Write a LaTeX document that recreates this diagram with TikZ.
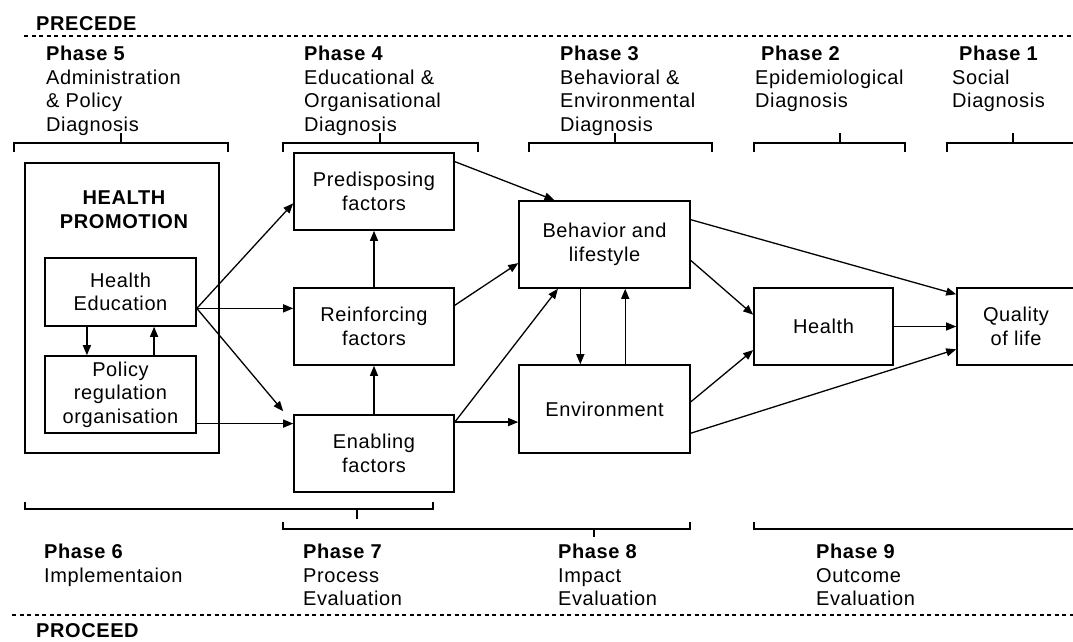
\documentclass[tikz,border=0pt]{standalone}
\usepackage{fontspec}
\setmainfont{Liberation Sans}[LetterSpace=3]
\usetikzlibrary{arrows.meta,calc}

\begin{document}
\begin{tikzpicture}[x=1pt,y=-1pt,
  every node/.style={font=\fontsize{20}{23.5}\selectfont, inner sep=0pt},
  box/.style={draw, line width=1.6pt, align=center},
  conn/.style={line width=1.3pt, -{Triangle[length=10pt,width=8pt]}},
  brace/.style={line width=1.6pt},
  sep/.style={line width=1.5pt, dash pattern=on 4pt off 3.5pt},
  phase/.style={anchor=north west, align=left},
  heading/.style={anchor=base west, font=\fontsize{20}{23.5}\selectfont\bfseries},
]
\useasboundingbox (0,0) rectangle (1073,641);
\fill[white] (0,0) rectangle (1073,641);
\clip (0,0) rectangle (1073,641);

% PRECEDE / PROCEED separators
\node[heading] (precede) at (36,30) {PRECEDE};
\draw[sep] (24,36) -- (1073,36);
\draw[sep] (12,615) -- (1073,615);
\node[heading] (proceed) at (36,637) {PROCEED};

% diagnosis phases (top)
\node[phase] (p5) at (46,46) {\textbf{Phase 5}\\Administration\\\& Policy\\Diagnosis};
\node[phase] (p4) at (304,46) {\textbf{Phase 4}\\Educational \&\\Organisational\\Diagnosis};
\node[phase] (p3) at (560,46) {\textbf{Phase 3}\\Behavioral \&\\Environmental\\Diagnosis};
\node[phase] (p2) at (755,46) {\hspace{6pt}\textbf{Phase 2}\\Epidemiological\\Diagnosis};
\node[phase] (p1) at (952,46) {\hspace{7pt}\textbf{Phase 1}\\Social\\Diagnosis};

\draw[brace] (14,152) -- (14,143) -- (228,143) -- (228,152) (121,143) -- (121,133);
\draw[brace] (283,152) -- (283,143) -- (478,143) -- (478,152) (380,143) -- (380,133);
\draw[brace] (529,152) -- (529,143) -- (712,143) -- (712,152) (615,143) -- (615,133);
\draw[brace] (754,152) -- (754,143) -- (905,143) -- (905,152) (840,143) -- (840,133);
\draw[brace] (947,152) -- (947,143) -- (1080,143) (1013,143) -- (1013,133);

% evaluation phases (bottom)
\draw[brace] (25,502) -- (25,509) -- (433,509) -- (433,502) (357,509) -- (357,519);
\draw[brace] (283,522) -- (283,529) -- (690,529) -- (690,522) (594,529) -- (594,537);
\draw[brace] (754,522) -- (754,529) -- (1080,529);

\node[phase] (p6) at (44,544) {\textbf{Phase 6}\\Implementaion};
\node[phase] (p7) at (303,544) {\textbf{Phase 7}\\Process\\Evaluation};
\node[phase] (p8) at (558,544) {\textbf{Phase 8}\\Impact\\Evaluation};
\node[phase] (p9) at (816,544) {\textbf{Phase 9}\\Outcome\\Evaluation};

% health promotion block
\node[box, minimum width=194pt, minimum height=290pt] (HP) at (122,308) {};
\node[font=\fontsize{20}{23.5}\selectfont\bfseries, align=center] (HPt) at (124,209.5) {HEALTH\\PROMOTION};
\node[box, minimum width=151pt, minimum height=68pt] (HE) at (120.5,292) {Health\\Education};
\node[box, minimum width=151pt, minimum height=77pt] (PO) at (120.5,394.5) {Policy\\regulation\\organisation};

% factors
\node[box, minimum width=160pt, minimum height=77pt] (PD) at (374,191.5) {Predisposing\\factors};
\node[box, minimum width=160pt, minimum height=77pt] (RF) at (374,326.5) {Reinforcing\\factors};
\node[box, minimum width=160pt, minimum height=77pt] (EN) at (374,453.5) {Enabling\\factors};

% behaviour, environment, outcomes
\node[box, minimum width=171pt, minimum height=87pt] (BL) at (604.5,244.5) {Behavior and\\lifestyle};
\node[box, minimum width=171pt, minimum height=88pt] (EV) at (604.5,409) {Environment};
\node[box, minimum width=139pt, minimum height=77pt] (HL) at (823.5,326.5) {Health};
\node[box, minimum width=118pt, minimum height=77pt] (QL) at (1016,326.5) {Quality\\of life};

% connector end points
\coordinate (hub) at ($(HE.north east)!0.735!(HE.south east)$);
\coordinate (po) at ($(PO.north east)!0.87!(PO.south east)$);
\coordinate (hd) at ($(HE.south west)!0.28!(HE.south east)$);
\coordinate (pu) at ($(PO.north west)!0.72!(PO.north east)$);
\coordinate (en) at ($(EN.north east)!0.1!(EN.south east)$);
\coordinate (bd) at ($(BL.south west)!0.36!(BL.south east)$);
\coordinate (eu) at ($(EV.north west)!0.62!(EV.north east)$);

% connectors
\draw[conn] (hd) -- (hd |- PO.north);
\draw[conn] (pu) -- (pu |- HE.south);
\draw[conn] (hub) -- ($(PD.north west)!0.65!(PD.south west)$);
\draw[conn] (hub) -- (hub -| RF.west);
\draw[conn] (hub) -- ($(EN.north west)+(-10,-3)$);
\draw[conn] (po) -- (po -| EN.west);
\draw[conn] (RF.north) -- (PD.south);
\draw[conn] (EN.north) -- (RF.south);
\draw[conn] ($(PD.north east)!0.12!(PD.south east)$) -- ($(BL.north west)!0.21!(BL.north east)$);
\draw[conn] ($(RF.north east)!0.23!(RF.south east)$) -- ($(BL.north west)!0.71!(BL.south west)$);
\draw[conn] (en) -- ($(BL.south west)!0.23!(BL.south east)$);
\draw[conn] (en) -- (en -| EV.west);
\draw[conn] (bd) -- (bd |- EV.north);
\draw[conn] (eu) -- (eu |- BL.south);
\draw[conn] ($(BL.north east)!0.68!(BL.south east)$) -- ($(HL.north west)!0.35!(HL.south west)$);
\draw[conn] ($(EV.north east)!0.42!(EV.south east)$) -- ($(HL.north west)!0.8!(HL.south west)$);
\draw[conn] ($(BL.north east)!0.22!(BL.south east)$) -- ($(QL.north west)!0.09!(QL.south west)$);
\draw[conn] (HL.east) -- (HL.east -| QL.west);
\draw[conn] ($(EV.north east)!0.77!(EV.south east)$) -- ($(QL.north west)!0.79!(QL.south west)$);
\end{tikzpicture}
\end{document}
